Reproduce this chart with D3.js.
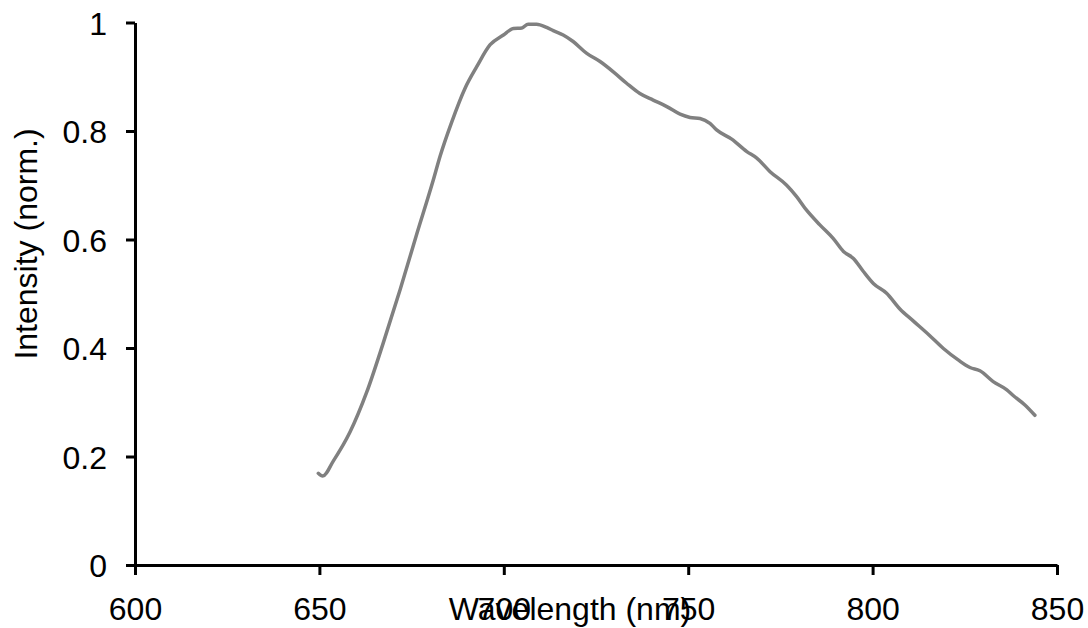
<!DOCTYPE html>
<html>
<head>
<meta charset="utf-8">
<script src="https://cdn.jsdelivr.net/npm/d3@7"></script>
<style>
  body { margin: 0; background: #fff; }
  text { font-family: "Liberation Sans", Arial, sans-serif; }
</style>
</head>
<body>
<div id="chart"></div>
<script>
// spectrum
var wavelength = [649.7, 650.9, 653.8, 658.3, 662.8, 667.3, 671.9, 676.4, 680.9, 682.7,
  685.9, 689.5, 692.7, 696.3, 699.9, 702.6, 704.9, 706.6, 708.9, 711.6,
  713.4, 716.1, 718.8, 722.5, 726.1, 729.7, 733.3, 736.9, 740.5, 744.2,
  747.8, 750.5, 753.2, 755.9, 757.7, 761.8, 765.9, 768.6, 772.2, 776.7,
  779.4, 782.1, 785.7, 789.3, 792.1, 794.8, 797.5, 800.2, 803.8, 807.4,
  811.0, 815.3, 819.2, 823.2, 826.4, 829.1, 832.7, 836.4, 838.2, 841.3, 844.0];
var intensity = [0.169, 0.164, 0.192, 0.245, 0.318, 0.409, 0.508, 0.610, 0.710, 0.753,
  0.817, 0.879, 0.919, 0.959, 0.977, 0.989, 0.990, 0.997, 0.997, 0.991,
  0.985, 0.977, 0.965, 0.943, 0.928, 0.909, 0.888, 0.869, 0.857, 0.845,
  0.831, 0.825, 0.823, 0.814, 0.802, 0.785, 0.762, 0.750, 0.725, 0.700,
  0.679, 0.654, 0.627, 0.602, 0.578, 0.565, 0.541, 0.519, 0.501, 0.472,
  0.450, 0.424, 0.399, 0.378, 0.364, 0.358, 0.338, 0.323, 0.312, 0.295, 0.276];

var xTicks = [600, 650, 700, 750, 800, 850];
var yTicks = [0, 0.2, 0.4, 0.6, 0.8, 1];

var svgWidth = 1088;
var svgHeight = 628;

var svg = d3.select("#chart")
  .append("svg")
  .attr("width", svgWidth)
  .attr("height", svgHeight);

var x = d3.scaleLinear().domain([600, 850]).range([135, 1057]);
var y = d3.scaleLinear().domain([0, 1]).range([565, 22.5]);

var data = wavelength.map((w, i) => ({ w: w, v: intensity[i] }));

// axes
var xAxis = svg.append("g")
  .attr("transform", "translate(0,565)")
  .call(d3.axisBottom(x).tickValues(xTicks).tickSize(10).tickSizeOuter(0).tickPadding(22));

var yAxis = svg.append("g")
  .attr("transform", "translate(135,0)")
  .call(d3.axisLeft(y).tickValues(yTicks).tickSize(9).tickSizeOuter(0).tickPadding(19)
    .tickFormat(d => String(+d.toFixed(1))));

svg.selectAll(".domain, .tick line")
  .attr("stroke", "#000")
  .attr("stroke-width", 3);

svg.selectAll(".tick text")
  .attr("fill", "#000")
  .style("font-size", "32px");

yAxis.selectAll(".tick text").attr("dy", "0.36em");

// curve
var line = d3.line()
  .curve(d3.curveMonotoneX)
  .x(d => x(d.w))
  .y(d => y(d.v));

svg.append("path")
  .datum(data)
  .attr("d", line)
  .attr("fill", "none")
  .attr("stroke", "#808080")
  .attr("stroke-width", 3.5)
  .attr("stroke-linejoin", "round")
  .attr("stroke-linecap", "round");

// axis titles
svg.append("text")
  .attr("x", 570)
  .attr("y", 620)
  .attr("text-anchor", "middle")
  .style("font-size", "32px")
  .text("Wavelength (nm)");

svg.append("text")
  .attr("transform", "translate(37,244) rotate(-90)")
  .attr("text-anchor", "middle")
  .style("font-size", "32px")
  .text("Intensity (norm.)");
</script>
</body>
</html>
